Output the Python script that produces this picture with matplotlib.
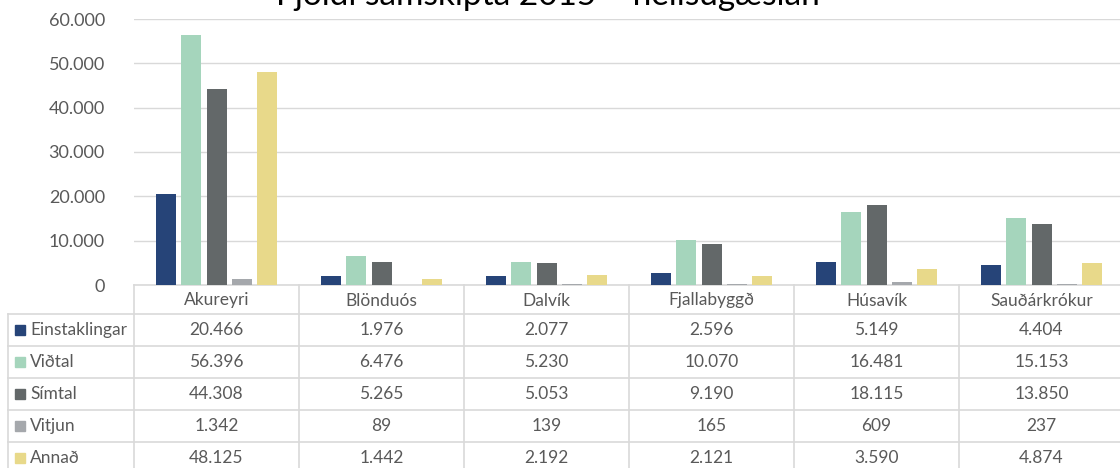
import numpy as np
import matplotlib.pyplot as plt
from matplotlib.patches import Rectangle

plt.rcParams['font.family'] = ['Lato', 'DejaVu Sans']

stadir = ['Akureyri', 'Blönduós', 'Dalvík', 'Fjallabyggð', 'Húsavík', 'Sauðárkrókur']
flokkar = ['Einstaklingar', 'Viðtal', 'Símtal', 'Vitjun', 'Annað']
einstaklingar = [20466, 1976, 2077, 2596, 5149, 4404]
vidtal = [56396, 6476, 5230, 10070, 16481, 15153]
simtal = [44308, 5265, 5053, 9190, 18115, 13850]
vitjun = [1342, 89, 139, 165, 609, 237]
annad = [48125, 1442, 2192, 2121, 3590, 4874]
y_ticks = [0, 10000, 20000, 30000, 40000, 50000, 60000]

litir = ['#264478', '#A5D5BC', '#636869', '#A5A8AC', '#E8D98A']
GRID = '#D9D9D9'
TXT = '#595959'

W, H = 1120, 468
COL_PX = 165          # width of one category column in pixels
HEAD_H, ROW_H = 29, 32


def fmt(v):
    # icelandic thousands separator
    return f'{v:,}'.replace(',', '.')


fig = plt.figure(figsize=(W / 100, H / 100), dpi=100)

# bar area
ax = fig.add_axes([134 / W, (H - 285) / H, 6 * COL_PX / W, 266 / H])
serie = [einstaklingar, vidtal, simtal, vitjun, annad]
x = np.arange(len(stadir))
step = 25.4 / COL_PX
bw = 20 / COL_PX
for i, (vals, c) in enumerate(zip(serie, litir)):
    ax.bar(x + (i - 2) * step, vals, width=bw, color=c, zorder=3)

ax.set_xlim(-0.5, 5.5)
ax.set_ylim(0, 60000)
ax.set_yticks(y_ticks)
ax.set_yticklabels([fmt(v) for v in y_ticks])
ax.set_xticks([])
ax.tick_params(axis='y', length=0, pad=21, labelsize=13, labelcolor=TXT)
ax.grid(axis='y', color=GRID, lw=1, zorder=0)
for s in ['left', 'right', 'top']:
    ax.spines[s].set_visible(False)
ax.spines['bottom'].set_color(GRID)
ax.spines['bottom'].set_linewidth(1.2)

# title sits partly above the top edge of the canvas
fig.text(548 / W, 1 - 5 / H, 'Fjöldi samskipta 2015 – heilsugæslan',
         ha='center', va='baseline', fontsize=24, color='black')

# data table under the bars
tax = fig.add_axes([134 / W, 0, 6 * COL_PX / W, (H - 285) / H])
tax.set_xlim(-0.5, 5.5)
tax.set_ylim(H - 285, 0)
tax.axis('off')

x_lab = -0.5 - 126 / COL_PX
n_rows = len(flokkar)
bottom = HEAD_H + ROW_H * n_rows
lk = dict(color=GRID, lw=1.2, clip_on=False)

for k in range(7):
    tax.plot([k - 0.5, k - 0.5], [0, bottom], **lk)
tax.plot([x_lab, x_lab], [HEAD_H, bottom], **lk)
for r in range(n_rows + 1):
    yy = HEAD_H + ROW_H * r
    tax.plot([x_lab, 5.5], [yy, yy], **lk)

for j, nafn in enumerate(stadir):
    tax.text(j, HEAD_H / 2 + 1, nafn, ha='center', va='center',
             fontsize=12.5, color=TXT)

for r, (nafn, vals, c) in enumerate(zip(flokkar, serie, litir)):
    yc = HEAD_H + ROW_H * r + ROW_H / 2
    sq_x = -0.5 - 119 / COL_PX
    tax.add_patch(Rectangle((sq_x, yc - 5), 10 / COL_PX, 10, color=c,
                            clip_on=False))
    tax.text(-0.5 - 104 / COL_PX, yc, nafn, ha='left', va='center',
             fontsize=12.5, color=TXT)
    for j, v in enumerate(vals):
        tax.text(j, yc, fmt(v), ha='center', va='center',
                 fontsize=12.5, color=TXT)

fig.savefig('out.png', dpi=100, facecolor='white')
